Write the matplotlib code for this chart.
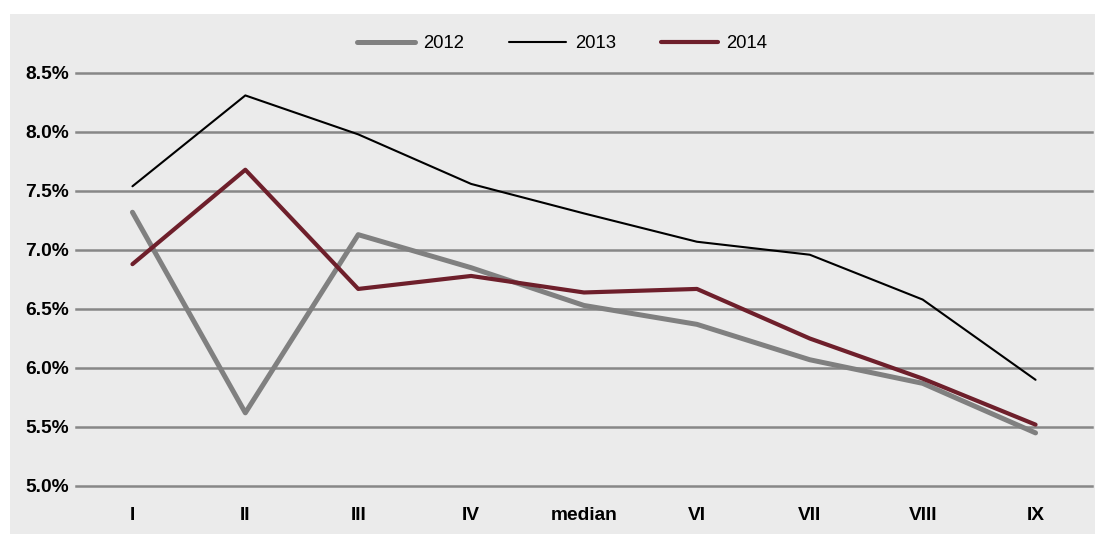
import matplotlib
matplotlib.use("Agg")
import matplotlib.pyplot as plt
from matplotlib.patches import Rectangle
from matplotlib.ticker import FuncFormatter

categories = ["I", "II", "III", "IV", "median", "VI", "VII", "VIII", "IX"]
s2012 = [7.32, 5.62, 7.13, 6.85, 6.53, 6.37, 6.07, 5.87, 5.45]
s2013 = [7.54, 8.31, 7.98, 7.56, 7.31, 7.07, 6.96, 6.58, 5.90]
s2014 = [6.88, 7.68, 6.67, 6.78, 6.64, 6.67, 6.25, 5.91, 5.52]
yticks = [5.0, 5.5, 6.0, 6.5, 7.0, 7.5, 8.0, 8.5]

plt.rcParams['font.family'] = ['Liberation Sans', 'DejaVu Sans']

W, H = 1095, 534
fig = plt.figure(figsize=(W / 100, H / 100), dpi=100)
fig.patch.set_facecolor("white")
bg = Rectangle((10 / W, 0), 1 - 10 / W, (H - 14) / H, transform=fig.transFigure,
               facecolor="#ebebeb", edgecolor="none", zorder=-10)
fig.patches.append(bg)

ax = fig.add_axes([76 / W, (H - 486) / H, (1092 - 76) / W, (486 - 73) / H])
ax.set_facecolor("none")
x = list(range(len(categories)))
ax.plot(x, s2012, color="#808080", lw=3.6, label="2012", solid_capstyle="round", zorder=3)
ax.plot(x, s2013, color="#000000", lw=1.5, label="2013", solid_capstyle="round", zorder=4)
ax.plot(x, s2014, color="#6e1f2b", lw=3.0, label="2014", solid_capstyle="round", zorder=5)

ax.set_xlim(-0.5, len(categories) - 0.5)
ax.set_ylim(5.0, 8.5)
ax.set_yticks(yticks)
ax.yaxis.set_major_formatter(FuncFormatter(lambda v, p: f"{v:.1f}%"))
ax.set_xticks(x)
ax.set_xticklabels(categories)
ax.grid(axis="y", color="#878787", lw=1.8, zorder=1)
for gl in ax.get_ygridlines():
    gl.set_clip_on(False)
ax.set_axisbelow(True)
for sp in ax.spines.values():
    sp.set_visible(False)
ax.tick_params(length=0)
ax.tick_params(axis="y", pad=5)
ax.tick_params(axis="x", pad=15)
for lbl in ax.get_xticklabels() + ax.get_yticklabels():
    lbl.set_fontweight("bold")
    lbl.set_fontsize(13.8)

leg = ax.legend(loc="center", bbox_to_anchor=((562.5 - 76) / 1016, (H - 44 - (H - 486)) / (486 - 73)),
                ncol=3, frameon=False, fontsize=13.3, handlelength=3.1,
                columnspacing=2.45, handletextpad=0.45)

fig.savefig("out.png", dpi=100)
